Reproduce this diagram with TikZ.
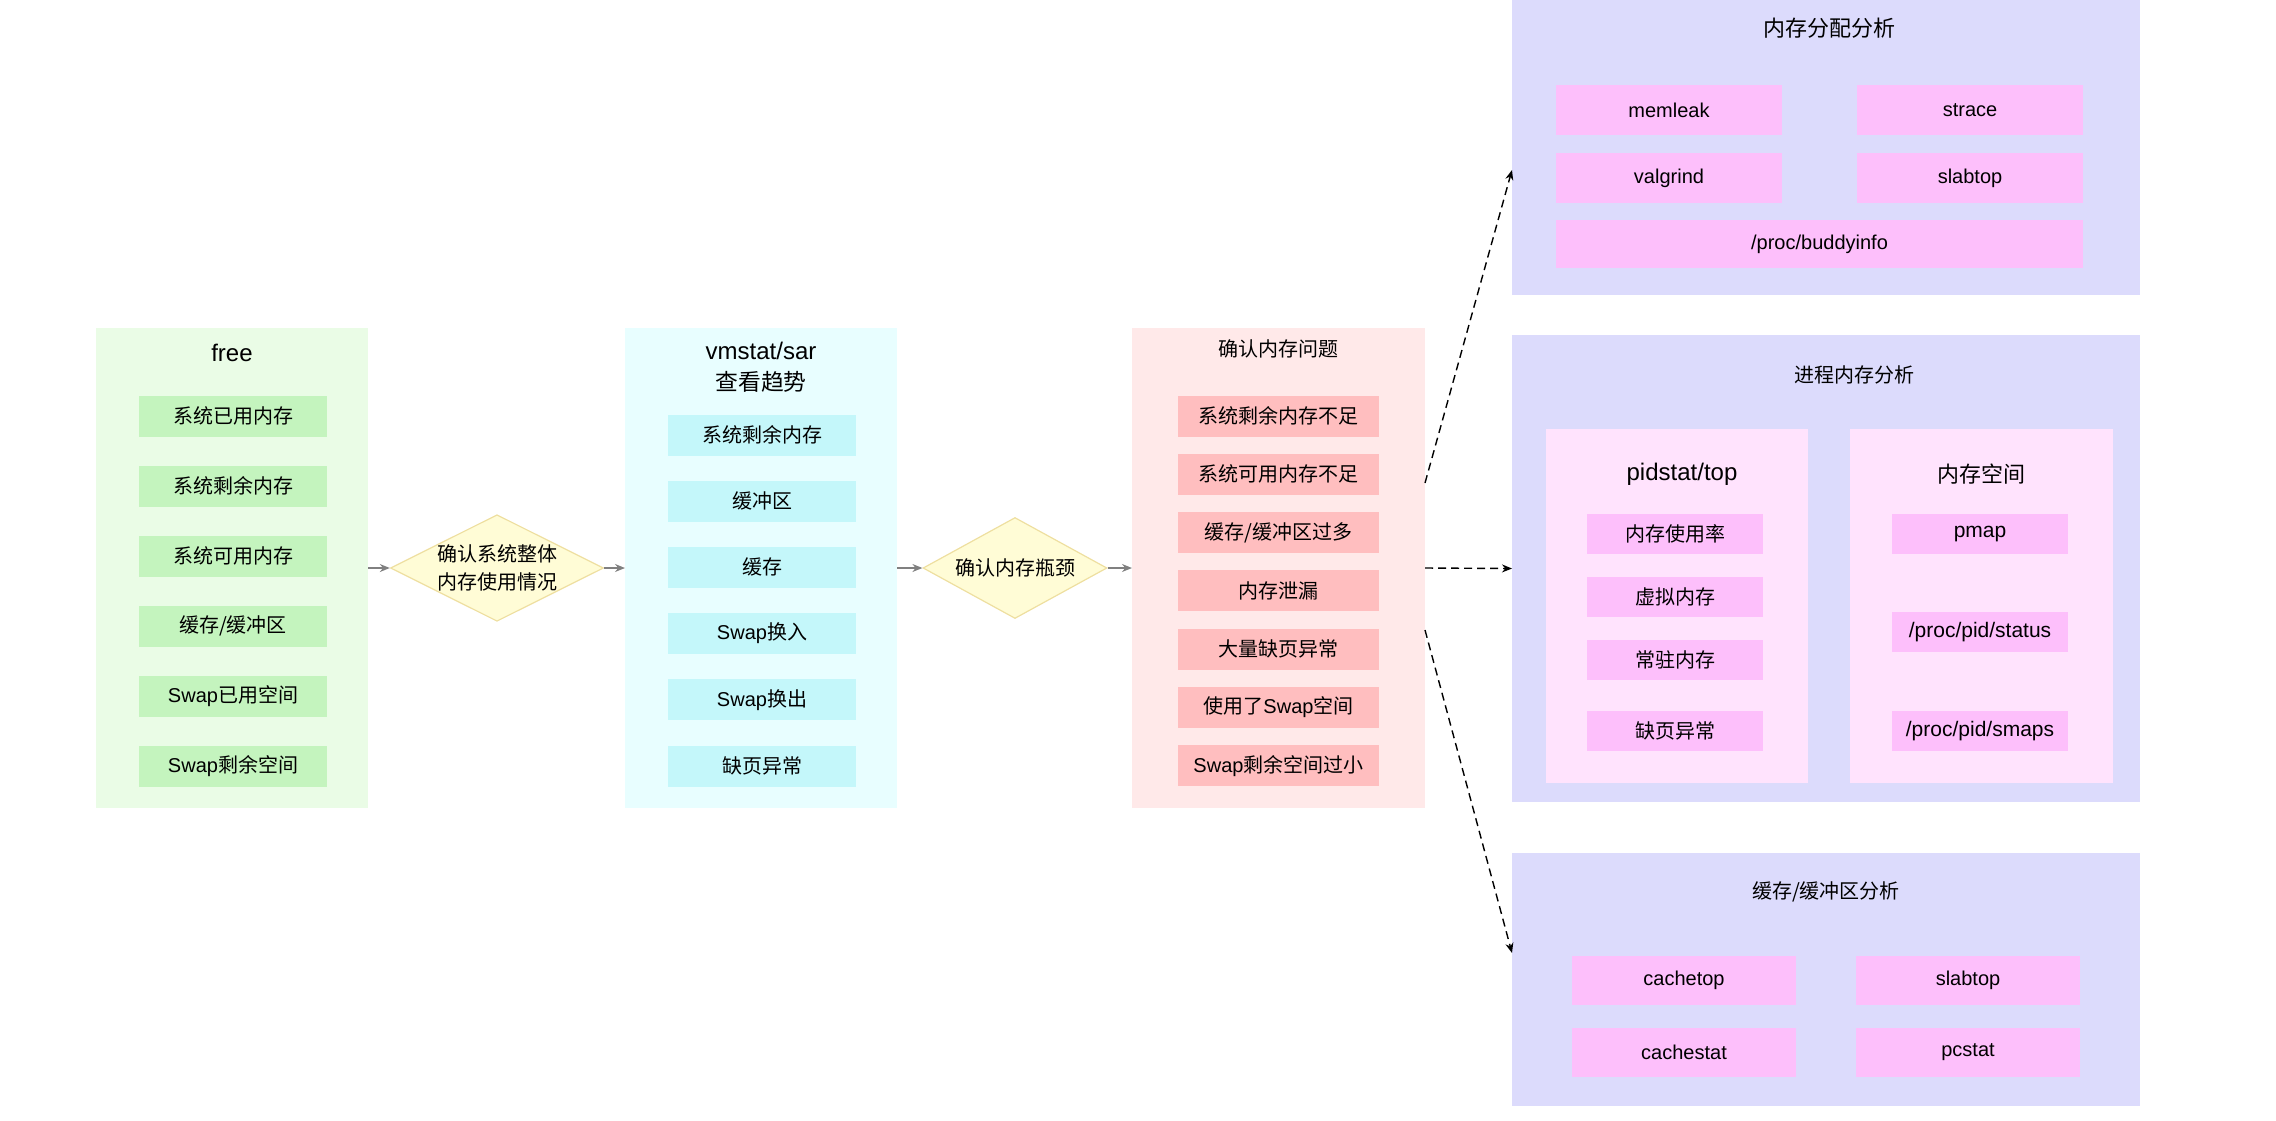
\documentclass[tikz,border=0pt]{standalone}
\usepackage{fontspec}
\setmainfont{Noto Sans CJK SC}
\newfontfamily\helv{Liberation Sans}
\usetikzlibrary{arrows.meta,shapes.geometric,positioning}

\definecolor{freebg}{HTML}{EAFCE6}
\definecolor{freeitem}{HTML}{C4F4BE}
\definecolor{vmbg}{HTML}{E8FEFF}
\definecolor{vmitem}{HTML}{C4F7FA}
\definecolor{probbg}{HTML}{FFE9E9}
\definecolor{probitem}{HTML}{FFBEBF}
\definecolor{decfill}{HTML}{FFFCD6}
\definecolor{decline}{HTML}{EEDFA0}
\definecolor{anabg}{HTML}{DCDBFC}
\definecolor{anasub}{HTML}{FFE3FD}
\definecolor{anaitem}{HTML}{FDBFFB}
\definecolor{flowgray}{HTML}{808080}

\begin{document}
\begin{tikzpicture}[x=0.5pt,y=-0.5pt,
    box/.style={inner sep=0pt, outer sep=0pt},
    item/.style={box, font=\fontsize{10pt}{12pt}\selectfont, minimum height=20.5pt},
    tool/.style={box, font=\fontsize{10pt}{12pt}\selectfont},
    head/.style={font=\fontsize{10pt}{12pt}\selectfont},
    decide/.style={diamond, draw=decline, fill=decfill, line width=0.6pt, aspect=2,
        inner sep=0pt, align=center, font=\fontsize{10pt}{14pt}\selectfont},
    flow/.style={-{Stealth[length=5pt,width=4pt]}, draw=flowgray, line width=0.7pt},
    jump/.style={-{Stealth[length=5pt,width=4pt]}, dash pattern=on 4pt off 2.5pt, line width=0.7pt}]

\useasboundingbox (0,0) rectangle (2276,1120);

% free
\node[box, fill=freebg, minimum width=136pt, minimum height=240pt] (free) at (232,568) {};
\node[font=\helv\fontsize{12pt}{14pt}\selectfont] (freehead) at (232,353) {free};
\foreach \t [count=\i] in {系统已用内存,系统剩余内存,系统可用内存,缓存/缓冲区,{{\helv Swap}已用空间},{{\helv Swap}剩余空间}}
    \node[item, fill=freeitem, minimum width=94pt] (free-\i) at (233,{416+70*(\i-1)}) {\t};

\node[decide, minimum width=103.5pt, minimum height=50.5pt] (check1) at (497,568) {确认系统整体\\内存使用情况};

% vmstat/sar
\node[box, fill=vmbg, minimum width=136pt, minimum height=240pt] (vm) at (761,568) {};
\node[align=center, font=\fontsize{11.4pt}{15.5pt}\selectfont] (vmhead) at (761,367) {{\helv\fontsize{12pt}{14pt}\selectfont vmstat/sar}\\查看趋势};
\foreach \t [count=\i] in {系统剩余内存,缓冲区,缓存,{{\helv Swap}换入},{{\helv Swap}换出},缺页异常}
    \node[item, fill=vmitem, minimum width=94pt] (vm-\i) at (762,{435+66.2*(\i-1)}) {\t};

\node[decide, minimum width=92pt, minimum height=50.5pt] (check2) at (1015,568) {确认内存瓶颈};

% problems
\node[box, fill=probbg, minimum width=146.5pt, minimum height=240pt] (prob) at (1278.5,568) {};
\node[head] (probhead) at (1278.5,349) {确认内存问题};
\foreach \t [count=\i] in {系统剩余内存不足,系统可用内存不足,缓存/缓冲区过多,内存泄漏,大量缺页异常,{使用了{\helv Swap}空间},{{\helv Swap}剩余空间过小}}
    \node[item, fill=probitem, minimum width=100.5pt] (prob-\i) at (1278.5,{416+58.3*(\i-1)}) {\t};

\draw[flow] (free) -- (check1);
\draw[flow] (check1) -- (vm);
\draw[flow] (vm) -- (check2);
\draw[flow] (check2) -- (prob);

% allocation
\node[box, fill=anabg, minimum width=314pt, minimum height=152.5pt] (alloc) at (1826,142.5) {};
\node[font=\fontsize{11pt}{13pt}\selectfont] (allochead) at (1829,28) {内存分配分析};
\foreach \t/\x/\y [count=\i] in {memleak/1669/110, strace/1970/110, valgrind/1669/178, slabtop/1970/178}
    \node[tool, font=\helv, fill=anaitem, minimum width=113pt, minimum height=25pt] (alloc-\i) at (\x,\y) {\t};
\node[tool, font=\helv, fill=anaitem, minimum width=263.5pt, minimum height=24pt] (alloc-5) at (1819.5,244) {/proc/buddyinfo};

% process
\node[box, fill=anabg, minimum width=314pt, minimum height=233.5pt] (proc) at (1826,568.5) {};
\node[head] (prochead) at (1854,375) {进程内存分析};
\node[box, fill=anasub, minimum width=131pt, minimum height=177pt] (top) at (1677,606) {};
\node[box, fill=anasub, minimum width=131.5pt, minimum height=177pt] (space) at (1981.5,606) {};
\node[font=\helv\fontsize{12pt}{14pt}\selectfont] (tophead) at (1682,474) {pidstat/top};
\node[font=\fontsize{11pt}{13pt}\selectfont] (spacehead) at (1981.5,474) {内存空间};
\foreach \t/\y [count=\i] in {内存使用率/534, 虚拟内存/597, 常驻内存/660, 缺页异常/731}
    \node[tool, fill=anaitem, minimum width=88pt, minimum height=20pt] (top-\i) at (1675,\y) {\t};
\foreach \t/\y [count=\i] in {pmap/534, {/proc/pid/status}/632, {/proc/pid/smaps}/731}
    \node[tool, font=\helv\fontsize{10.5pt}{12pt}\selectfont, fill=anaitem, minimum width=88pt, minimum height=20pt] (space-\i) at (1980,\y) {\t};

% cache
\node[box, fill=anabg, minimum width=314pt, minimum height=126.5pt] (cache) at (1826,979.5) {};
\node[head] (cachehead) at (1826,892) {缓存/缓冲区分析};
\foreach \t/\x/\y [count=\i] in {cachetop/1684/980, slabtop/1968/980, cachestat/1684/1052, pcstat/1968/1052}
    \node[tool, font=\helv, fill=anaitem, minimum width=112pt, minimum height=24.5pt] (cache-\i) at (\x,\y) {\t};

\draw[jump] ([yshift=42.5pt]prob.east) -- ([yshift=-13.75pt]alloc.west);
\draw[jump] (prob.east) -- (proc.west);
\draw[jump] ([yshift=-31pt]prob.east) -- ([yshift=13.25pt]cache.west);

\end{tikzpicture}
\end{document}
